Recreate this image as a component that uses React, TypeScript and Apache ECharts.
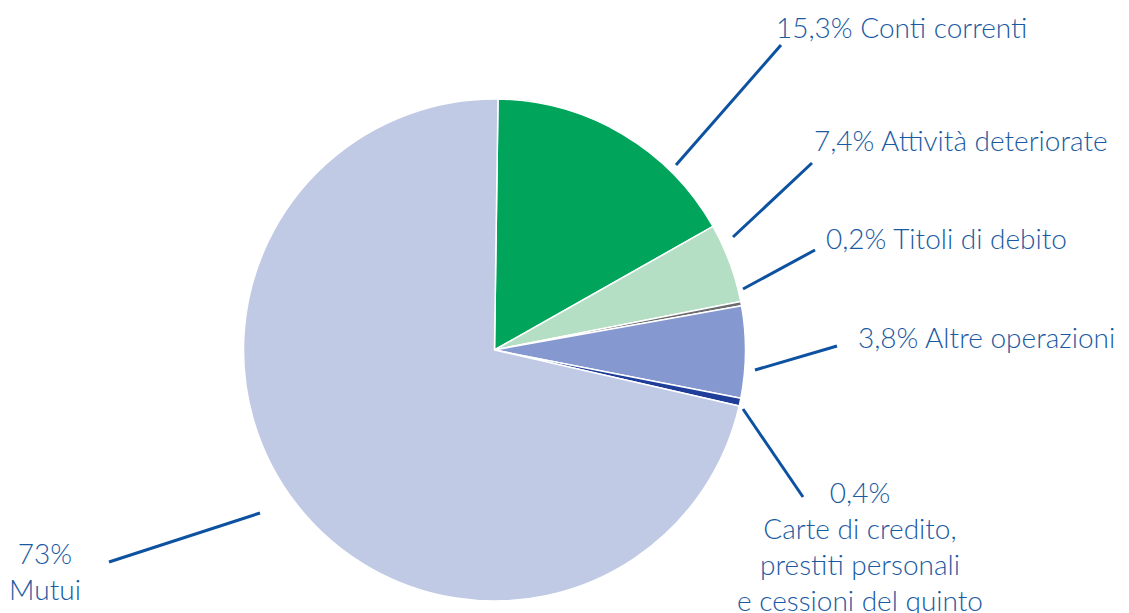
import React, { useEffect, useRef } from "react";
import * as echarts from "echarts";

// Slice names (clockwise from the top)
const categories = [
  "Conti correnti",
  "Attività deteriorate",
  "Titoli di debito",
  "Altre operazioni",
  "Carte di credito,\nprestiti personali\ne cessioni del quinto",
  "Mutui",
];
// Percentages as printed on the chart
const labelPercents = ["15,3%", "7,4%", "0,2%", "3,8%", "0,4%", "73%"];
// Slice sizes as drawn in the picture (share of the circle, %)
const sliceShares = [16.6, 5.1, 0.28, 5.9, 0.5, 71.7];

const colors = ["#00a55b", "#b4dfc5", "#6b6c70", "#8599d0", "#1f3e99", "#c0cae5"];

// Label layout: anchor, alignment, and leader line endpoints
const labelAnchors: [number, number, "left" | "center"][] = [
  [776, 27, "left"],
  [814, 140, "left"],
  [826, 238, "left"],
  [858, 337, "left"],
  [860, 546, "center"],
  [45, 571, "center"],
];
const leaderLines: [number, number, number, number][] = [
  [676, 165, 781, 45],
  [733, 237, 812, 163],
  [743, 289, 815, 250],
  [755, 370, 837, 346],
  [743, 409, 803, 497],
  [260, 513, 109, 562],
];

export default function App() {
  const ref = useRef<HTMLDivElement>(null);
  useEffect(() => {
    document.body.style.margin = "0";
    const chart = echarts.init(ref.current!, null, { renderer: "svg" });
    const data = categories.map((name, i) => ({
      name,
      value: sliceShares[i],
      itemStyle: { color: colors[i] },
    }));
    chart.setOption({
      animation: false,
      series: [
        {
          type: "pie",
          center: [494.5, 350],
          radius: [0, 251],
          startAngle: 89.2,
          clockwise: true,
          avoidLabelOverlap: false,
          data,
          itemStyle: { borderColor: "#ffffff", borderWidth: 1.5 },
          emphasis: { disabled: true },
          label: {
            show: true,
            color: "#1a5aa2",
            fontFamily: "Lato",
            fontWeight: 300,
            fontSize: 28,
            lineHeight: 36,
            formatter: (p: any) => {
              const i = p.dataIndex;
              return i >= 4
                ? `${labelPercents[i]}\n${categories[i]}`
                : `${labelPercents[i]} ${categories[i]}`;
            },
          },
          labelLine: {
            show: true,
            smooth: false,
            lineStyle: { color: "#0d52a0", width: 3 },
          },
          labelLayout: (p: any) => {
            const i = p.dataIndex;
            const [x, y, align] = labelAnchors[i];
            const [x1, y1, x2, y2] = leaderLines[i];
            return {
              x,
              y,
              align,
              verticalAlign: "middle",
              labelLinePoints: [
                [x1, y1],
                [x2, y2],
                [x2, y2],
              ],
            };
          },
        },
      ],
    });
    return () => chart.dispose();
  }, []);
  return <div ref={ref} style={{ width: 1129, height: 613 }} />;
}
